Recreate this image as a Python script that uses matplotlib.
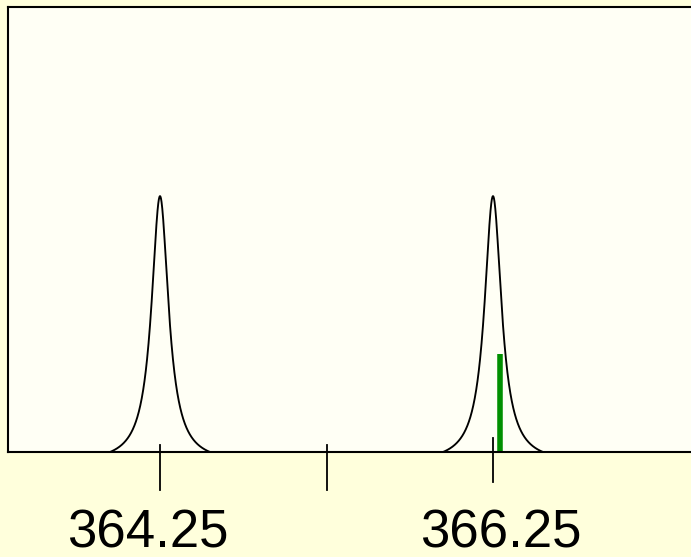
import numpy as np
import matplotlib
matplotlib.use("Agg")
import matplotlib.pyplot as plt
from matplotlib.transforms import blended_transform_factory

plt.rcParams['font.family'] = ['Liberation Sans', 'DejaVu Sans']

# Data
peak_centers = [364.25, 366.25]
peak_heights = [1.0, 1.0]
peak_hwhm = 0.062
peak_halfspan = 0.33
stick_positions = [366.295]
stick_heights = [0.383]
major_ticks = [364.25, 366.25]
minor_ticks = [365.25]
tick_labels = ["364.25", "366.25"]

outer_bg = '#FFFFDC'
inner_bg = '#FFFFF5'

fig = plt.figure(figsize=(6.91, 5.57), dpi=100, facecolor=outer_bg)
W, H = 691, 557
ax = fig.add_axes([8 / W, (H - 452) / H, (700 - 8) / W, (452 - 7) / H])
ax.set_facecolor(inner_bg)

px_per_unit = 166.5
x0 = 364.25 - (160 - 8) / px_per_unit
ax.set_xlim(x0, x0 + 692 / px_per_unit)
ax.set_ylim(0, 1 / 0.575)

cut = 1 / (1 + (0.30 / peak_hwhm) ** 2)
for c, h in zip(peak_centers, peak_heights):
    xs = np.linspace(c - peak_halfspan, c + peak_halfspan, 600)
    L = 1 / (1 + ((xs - c) / peak_hwhm) ** 2)
    ys = h * (L - cut) / (1 - cut)
    ax.plot(xs, ys, color='black', lw=1.35, solid_capstyle='round')

ax.vlines(stick_positions, 0, stick_heights, color='#009000', lw=4)

for s in ['top', 'left', 'bottom']:
    ax.spines[s].set_linewidth(1.5)
ax.spines['right'].set_visible(False)
ax.set_xticks([])
ax.set_yticks([])

# custom ticks crossing the axis
trans = blended_transform_factory(ax.transData, ax.transAxes)
axh = 445.0
tick_spans = {364.25: (7, 38), 365.25: (7, 38), 366.25: (14, 30)}
for t in major_ticks + minor_ticks:
    up, down = tick_spans[t]
    ax.plot([t, t], [up / axh, -down / axh], color='black', lw=1.3,
            transform=trans, clip_on=False)

label_offsets = {364.25: -12, 366.25: 8}
for t, lab in zip(major_ticks, tick_labels):
    ax.annotate(lab, xy=(t, 0), xycoords=trans, xytext=(label_offsets[t] * 0.72, -82 * 0.72),
                textcoords='offset points', ha='center', va='center', fontsize=38)

fig.savefig('out.png', dpi=100, facecolor=outer_bg)
